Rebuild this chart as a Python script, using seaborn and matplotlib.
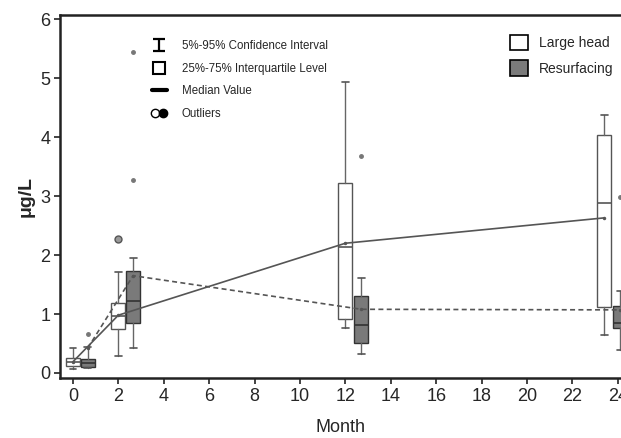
import matplotlib
matplotlib.use('Agg')
import matplotlib.pyplot as plt
import seaborn as sns
import pandas as pd
from matplotlib import font_manager
from matplotlib.lines import Line2D
from matplotlib.patches import Patch
from matplotlib.path import Path
from matplotlib.legend_handler import HandlerTuple

# box summary values (whisker low, q1, median, q3, whisker high)
lh_x = [0, 2, 12, 23.4]
lh_lo = [0.07, 0.29, 0.76, 0.64]
lh_q1 = [0.12, 0.75, 0.92, 1.12]
lh_med = [0.19, 0.96, 2.13, 2.88]
lh_q3 = [0.25, 1.19, 3.22, 4.03]
lh_hi = [0.42, 1.71, 4.93, 4.37]
lh_mean = [0.19, 0.98, 2.2, 2.63]
lh_out = [[], [2.28], [], []]

rs_x = [0.65, 2.65, 12.7, 24.1]
rs_lo = [0.08, 0.43, 0.32, 0.39]
rs_q1 = [0.10, 0.85, 0.51, 0.76]
rs_med = [0.17, 1.22, 0.81, 0.85]
rs_q3 = [0.24, 1.73, 1.30, 1.14]
rs_hi = [0.44, 1.95, 1.61, 1.39]
rs_mean = [0.42, 1.65, 1.08, 1.07]
rs_out = [[0.66], [3.28, 5.45], [3.68], [2.98]]

x_ticks = list(range(0, 26, 2))
y_ticks = [0, 1, 2, 3, 4, 5, 6]

sns.set_theme(style='ticks')
names = {f.name for f in font_manager.fontManager.ttflist}
narrow = 'Liberation Sans Narrow' if 'Liberation Sans Narrow' in names else 'Liberation Sans'
plt.rcParams['font.family'] = [narrow, 'DejaVu Sans']

fig = plt.figure(figsize=(6.21, 4.38), dpi=100)
ax = fig.add_axes([60 / 621, 1 - 378 / 438, 1 - 60 / 621, (378 - 15) / 438])


def stats(lo, q1, med, q3, hi, out):
    return [dict(whislo=a, q1=b, med=c, q3=d, whishi=e, fliers=f)
            for a, b, c, d, e, f in zip(lo, q1, med, q3, hi, out)]


ax.bxp(stats(lh_lo, lh_q1, lh_med, lh_q3, lh_hi, lh_out), positions=lh_x,
       widths=0.62, capwidths=0.3, patch_artist=True, manage_ticks=False,
       boxprops=dict(facecolor='white', edgecolor='#555555', lw=1),
       whiskerprops=dict(color='#666666', lw=1), capprops=dict(color='#555555', lw=1.2),
       medianprops=dict(color='#555555', lw=1.2),
       flierprops=dict(marker='o', markersize=5, markerfacecolor='#999999',
                       markeredgecolor='#555555'))
ax.bxp(stats(rs_lo, rs_q1, rs_med, rs_q3, rs_hi, rs_out), positions=rs_x,
       widths=0.62, capwidths=0.3, patch_artist=True, manage_ticks=False,
       boxprops=dict(facecolor='#7a7a7a', edgecolor='#333333', lw=1),
       whiskerprops=dict(color='#666666', lw=1), capprops=dict(color='#555555', lw=1.2),
       medianprops=dict(color='#333333', lw=1.2),
       flierprops=dict(marker='o', markersize=2.5, markerfacecolor='#777777',
                       markeredgecolor='#777777'))

lh = pd.DataFrame({'x': lh_x, 'y': lh_mean})
rs = pd.DataFrame({'x': rs_x, 'y': rs_mean})
sns.lineplot(data=lh, x='x', y='y', ax=ax, color='#555555', lw=1.2,
             marker='o', markersize=2.5, markeredgewidth=0)
sns.lineplot(data=rs, x='x', y='y', ax=ax, color='#555555', lw=1.2,
             linestyle=(0, (3, 2)), marker='o', markersize=2.5, markeredgewidth=0)

ax.set_xlim(-0.57, 24.14)
ax.set_ylim(-0.085, 6.07)
ax.set_xticks(x_ticks)
ax.set_yticks(y_ticks)
ax.tick_params(labelsize=13, length=4, width=1.2, color='#222222', pad=3)
ax.set_xlabel('Month', fontsize=13, labelpad=10)
ax.set_ylabel('\u03bcg/L', fontsize=14, fontweight='bold', labelpad=4)
for side in ['left', 'bottom', 'top']:
    ax.spines[side].set_linewidth(1.8)
    ax.spines[side].set_color('#222222')
ax.spines['right'].set_visible(False)

# key for the box elements
ibeam = Path([(-1, 1), (1, 1), (0, 1), (0, -1), (-1, -1), (1, -1)],
             [Path.MOVETO, Path.LINETO, Path.MOVETO, Path.LINETO, Path.MOVETO, Path.LINETO])
key_handles = [
    Line2D([], [], marker=ibeam, ms=8, mec='black', mew=1.6, ls='none'),
    Line2D([], [], marker='s', ms=8, mfc='white', mec='black', mew=1.5, ls='none'),
    Line2D([], [], color='black', lw=3),
    (Line2D([], [], marker='o', ms=6, mfc='white', mec='black', ls='none'),
     Line2D([], [], marker='o', ms=6, mfc='black', mec='black', ls='none')),
]
key_labels = ['5%-95% Confidence Interval', '25%-75% Interquartile Level',
              'Median Value', 'Outliers']
leg1 = ax.legend(key_handles, key_labels, loc='upper left', bbox_to_anchor=(0.145, 0.96),
                 frameon=False, fontsize=8.3, handlelength=1.3, handletextpad=1.3,
                 labelspacing=0.93, handler_map={tuple: HandlerTuple(ndivide=None, pad=0.1)})
ax.add_artist(leg1)

group_handles = [Patch(facecolor='white', edgecolor='black', lw=1.2),
                 Patch(facecolor='#7a7a7a', edgecolor='black', lw=1.2)]
ax.legend(group_handles, ['Large head', 'Resurfacing'], loc='upper left',
          bbox_to_anchor=(0.78, 0.98), frameon=False, fontsize=10,
          handlelength=1.3, handleheight=1.3, handletextpad=0.8, labelspacing=0.75)

fig.savefig('out.png', dpi=100)
